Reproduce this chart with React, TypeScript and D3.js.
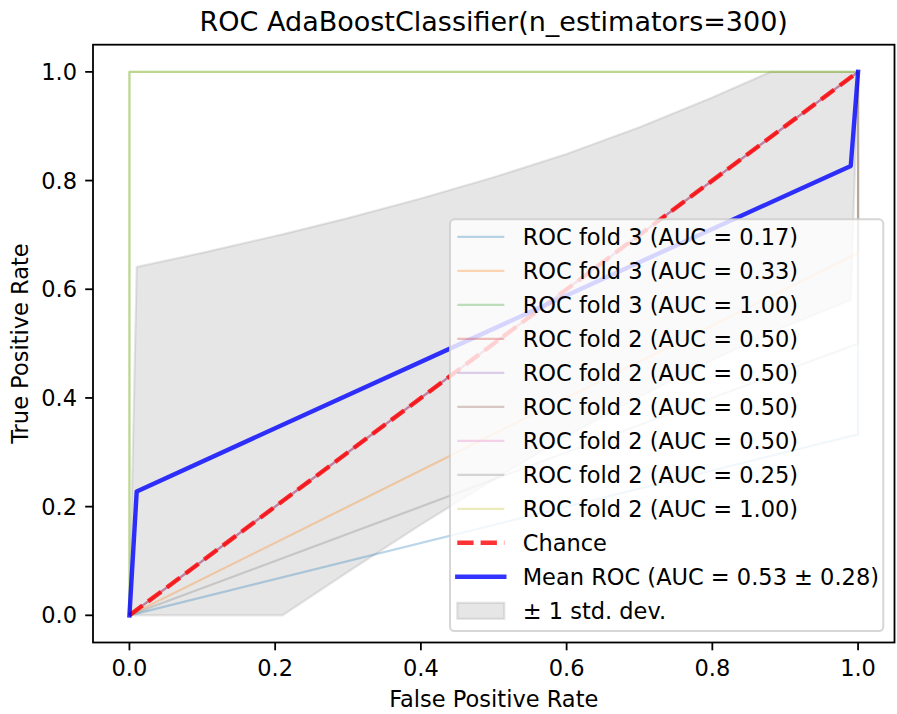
import * as d3 from "d3";
import { useEffect, useRef } from "react";

// values
const foldLabels = [
  "ROC fold 3 (AUC = 0.17)",
  "ROC fold 3 (AUC = 0.33)",
  "ROC fold 3 (AUC = 1.00)",
  "ROC fold 2 (AUC = 0.50)",
  "ROC fold 2 (AUC = 0.50)",
  "ROC fold 2 (AUC = 0.50)",
  "ROC fold 2 (AUC = 0.50)",
  "ROC fold 2 (AUC = 0.25)",
  "ROC fold 2 (AUC = 1.00)",
];
const foldColors = [
  "#1f77b4", "#ff7f0e", "#2ca02c", "#d62728", "#9467bd",
  "#8c564b", "#e377c2", "#7f7f7f", "#bcbd22",
];
const foldFpr = [
  [0, 1, 1], [0, 1, 1], [0, 0, 1], [0, 1], [0, 1], [0, 1], [0, 1], [0, 1, 1], [0, 0, 1],
];
const foldTpr = [
  [0, 0.333, 1], [0, 0.667, 1], [0, 1, 1], [0, 1], [0, 1], [0, 1], [0, 1], [0, 0.5, 1], [0, 1, 1],
];

const chanceFpr = [0, 1];
const chanceTpr = [0, 1];

const meanFpr = [0, 0.01, 0.99, 1];
const meanTpr = [0, 0.228, 0.827, 1];

const bandFpr = [0, 0.01, 0.1, 0.2, 0.21, 0.3, 0.4, 0.5, 0.6, 0.7, 0.8, 0.88, 0.9, 0.99, 1];
const bandUpper = [0, 0.641, 0.667, 0.698, 0.701, 0.731, 0.767, 0.806, 0.849, 0.898, 0.953, 1, 1, 1, 1];
const bandLower = [0, 0, 0, 0, 0, 0.080, 0.167, 0.25, 0.329, 0.402, 0.470, 0.519, 0.531, 0.580, 1];

const ticks = [0, 0.2, 0.4, 0.6, 0.8, 1.0];
const tickLabels = ["0.0", "0.2", "0.4", "0.6", "0.8", "1.0"];

const title = "ROC AdaBoostClassifier(n_estimators=300)";
const xTitle = "False Positive Rate";
const yTitle = "True Positive Rate";
const chanceLabel = "Chance";
const meanLabel = "Mean ROC (AUC = 0.53 \u00b1 0.28)";
const bandLabel = "\u00b1 1 std. dev.";

const App = () => {
  const svgRef = useRef(null);
  const width = 897;
  const height = 714;

  useEffect(() => {
    const svg = d3.select(svgRef.current);
    svg.selectAll("*").remove();

    const left = 93, right = 894.5, top = 44.7, bottom = 642.5;
    const font = "DejaVu Sans, sans-serif";
    const fs = 22.5;
    const lw = 2.2;

    const x = d3.scaleLinear().domain([-0.05, 1.05]).range([left, right]);
    const y = d3.scaleLinear().domain([-0.05, 1.05]).range([bottom, top]);

    svg.append("rect").attr("width", width).attr("height", height).attr("fill", "#fff");

    const line = d3
      .line<[number, number]>()
      .x((d) => x(d[0]))
      .y((d) => y(d[1]));

    // std band
    const area = d3
      .area<number>()
      .x((d, i) => x(bandFpr[i]))
      .y0((d, i) => y(bandLower[i]))
      .y1((d) => y(d));
    svg
      .append("path")
      .attr("d", area(bandUpper))
      .attr("fill", "rgba(128,128,128,0.2)")
      .attr("stroke", "rgba(128,128,128,0.2)")
      .attr("stroke-width", lw);

    // folds
    foldFpr.forEach((fpr, k) => {
      svg
        .append("path")
        .attr("d", line(fpr.map((v, i) => [v, foldTpr[k][i]] as [number, number])))
        .attr("fill", "none")
        .attr("stroke", foldColors[k])
        .attr("stroke-opacity", 0.3)
        .attr("stroke-width", lw)
        .attr("stroke-linejoin", "round");
    });

    // chance
    svg
      .append("path")
      .attr("d", line(chanceFpr.map((v, i) => [v, chanceTpr[i]] as [number, number])))
      .attr("fill", "none")
      .attr("stroke", "#ff0000")
      .attr("stroke-opacity", 0.8)
      .attr("stroke-width", 2 * lw)
      .attr("stroke-dasharray", `${3.7 * 2 * lw},${1.6 * 2 * lw}`);

    // mean
    svg
      .append("path")
      .attr("d", line(meanFpr.map((v, i) => [v, meanTpr[i]] as [number, number])))
      .attr("fill", "none")
      .attr("stroke", "#0000ff")
      .attr("stroke-opacity", 0.8)
      .attr("stroke-width", 2 * lw)
      .attr("stroke-linejoin", "round")
      .attr("stroke-linecap", "square");

    // frame
    svg
      .append("rect")
      .attr("x", left)
      .attr("y", top)
      .attr("width", right - left)
      .attr("height", bottom - top)
      .attr("fill", "none")
      .attr("stroke", "#000")
      .attr("stroke-width", 1.8);

    // x ticks
    const gx = svg.append("g");
    ticks.forEach((t, i) => {
      gx.append("line")
        .attr("x1", x(t)).attr("x2", x(t))
        .attr("y1", bottom).attr("y2", bottom + 7.8)
        .attr("stroke", "#000").attr("stroke-width", 1.8);
      gx.append("text")
        .attr("x", x(t)).attr("y", 676)
        .attr("text-anchor", "middle")
        .attr("font-family", font).attr("font-size", fs)
        .text(tickLabels[i]);
    });

    // y ticks
    const gy = svg.append("g");
    ticks.forEach((t, i) => {
      gy.append("line")
        .attr("x1", left - 7.8).attr("x2", left)
        .attr("y1", y(t)).attr("y2", y(t))
        .attr("stroke", "#000").attr("stroke-width", 1.8);
      gy.append("text")
        .attr("x", 77).attr("y", y(t) + 8)
        .attr("text-anchor", "end")
        .attr("font-family", font).attr("font-size", fs)
        .text(tickLabels[i]);
    });

    svg.append("text")
      .attr("x", (left + right) / 2).attr("y", 706.5)
      .attr("text-anchor", "middle")
      .attr("font-family", font).attr("font-size", fs)
      .text(xTitle);

    svg.append("text")
      .attr("transform", `translate(28,${(top + bottom) / 2}) rotate(-90)`)
      .attr("text-anchor", "middle")
      .attr("font-family", font).attr("font-size", fs)
      .text(yTitle);

    svg.append("text")
      .attr("x", (left + right) / 2).attr("y", 31)
      .attr("text-anchor", "middle")
      .attr("font-family", font).attr("font-size", 27)
      .text(title);

    // legend
    const lg = svg.append("g");
    lg.append("rect")
      .attr("x", 450).attr("y", 219.3)
      .attr("width", 883.3 - 450).attr("height", 631 - 219.3)
      .attr("rx", 4.5)
      .attr("fill", "rgba(255,255,255,0.8)")
      .attr("stroke", "rgba(204,204,204,0.8)")
      .attr("stroke-width", 2);

    const rowY = (i: number) => 236.8 + 34 * i;
    const hx0 = 457.3, hx1 = 504.3, tx = 522.7;
    foldLabels.forEach((lab, k) => {
      lg.append("line")
        .attr("x1", hx0).attr("x2", hx1)
        .attr("y1", rowY(k)).attr("y2", rowY(k))
        .attr("stroke", foldColors[k]).attr("stroke-opacity", 0.3)
        .attr("stroke-width", lw);
      lg.append("text")
        .attr("x", tx).attr("y", rowY(k) + 8.2)
        .attr("font-family", font).attr("font-size", fs)
        .text(lab);
    });
    const n = foldLabels.length;
    lg.append("line")
      .attr("x1", hx0).attr("x2", hx1)
      .attr("y1", rowY(n)).attr("y2", rowY(n))
      .attr("stroke", "#ff0000").attr("stroke-opacity", 0.8)
      .attr("stroke-width", 2 * lw)
      .attr("stroke-dasharray", `${3.7 * 2 * lw},${1.6 * 2 * lw}`);
    lg.append("text")
      .attr("x", tx).attr("y", rowY(n) + 8.2)
      .attr("font-family", font).attr("font-size", fs)
      .text(chanceLabel);
    lg.append("line")
      .attr("x1", hx0).attr("x2", hx1)
      .attr("y1", rowY(n + 1)).attr("y2", rowY(n + 1))
      .attr("stroke", "#0000ff").attr("stroke-opacity", 0.8)
      .attr("stroke-width", 2 * lw)
      .attr("stroke-linecap", "square");
    lg.append("text")
      .attr("x", tx).attr("y", rowY(n + 1) + 8.2)
      .attr("font-family", font).attr("font-size", fs)
      .text(meanLabel);
    lg.append("rect")
      .attr("x", hx0).attr("y", rowY(n + 2) - 8)
      .attr("width", hx1 - hx0).attr("height", 16)
      .attr("fill", "rgba(128,128,128,0.2)")
      .attr("stroke", "rgba(128,128,128,0.2)")
      .attr("stroke-width", lw);
    lg.append("text")
      .attr("x", tx).attr("y", rowY(n + 2) + 8.2)
      .attr("font-family", font).attr("font-size", fs)
      .text(bandLabel);
  }, []);

  return (
    <svg
      ref={svgRef}
      width={width}
      height={height}
      style={{ position: "absolute", left: 0, top: 0, display: "block" }}
    />
  );
};

export default App;
